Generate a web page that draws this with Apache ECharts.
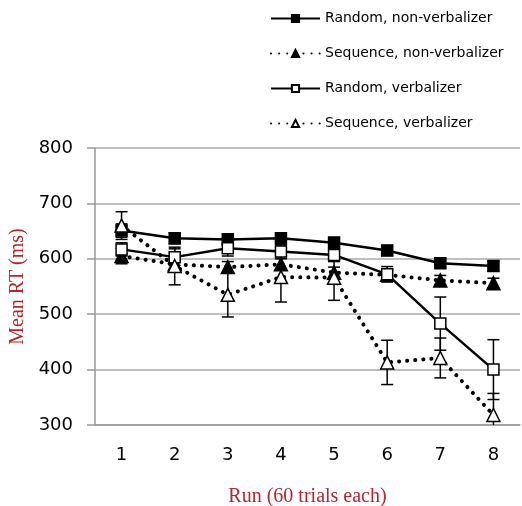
<!DOCTYPE html>
<html>
<head>
<meta charset="utf-8">
<script src="https://cdn.jsdelivr.net/npm/echarts@6/dist/echarts.min.js"></script>
<style>
  html, body { margin: 0; padding: 0; background: #fff; }
  #main { width: 522px; height: 506px; }
</style>
</head>
<body>
<div id="main"></div>
<script>
var runs = ['1', '2', '3', '4', '5', '6', '7', '8'];

var randNonVerb = [651, 637, 635, 637, 629, 615, 592, 587];
var randNonVerbErr = [12, 10, 10, 10, 10, 9, 8, 9];

var seqNonVerb = [605, 590, 585, 590, 575, 571, 561, 556];
var seqNonVerbErr = [14, 10, 10, 10, 10, 9, 9, 9];

var randVerb = [617, 603, 619, 613, 607, 572, 483, 400];
var randVerbErr = [12, 15, 14, 12, 12, 14, 48, 54];

var seqVerb = [660, 587, 535, 567, 566, 413, 421, 318];
var seqVerbErr = [25, 34, 40, 45, 41, 40, 36, 39];

var myChart = echarts.init(document.getElementById('main'));

// error bars drawn through the axis scale
function errSeries(vals, errs) {
  var data = vals.map(function (v, i) { return [i, v - errs[i], v + errs[i]]; });
  return {
    type: 'custom',
    silent: true,
    clip: true,
    z: 1,
    renderItem: function (params, api) {
      var x = api.value(0);
      var lo = api.coord([x, api.value(1)]);
      var hi = api.coord([x, api.value(2)]);
      var w = 6;
      var st = { stroke: '#000', lineWidth: 1.5 };
      return {
        type: 'group',
        children: [
          { type: 'line', shape: { x1: hi[0], y1: hi[1], x2: lo[0], y2: lo[1] }, style: st },
          { type: 'line', shape: { x1: hi[0] - w, y1: hi[1], x2: hi[0] + w, y2: hi[1] }, style: st },
          { type: 'line', shape: { x1: lo[0] - w, y1: lo[1], x2: lo[0] + w, y2: lo[1] }, style: st }
        ]
      };
    },
    data: data
  };
}

var solid = { color: '#000', width: 2.5 };
var dotted = { color: '#000', width: 4, type: [0.1, 8], cap: 'round' };

function lineSeries(name, vals, symbol, filled, ls) {
  return {
    name: name,
    type: 'line',
    data: vals,
    z: 3,
    symbol: symbol,
    symbolSize: symbol === 'triangle' ? 13 : 11,
    showAllSymbol: true,
    lineStyle: ls,
    itemStyle: { color: filled ? '#000' : '#fff', borderColor: '#000', borderWidth: 1.5 }
  };
}

var option = {
  animation: false,
  backgroundColor: '#fff',
  textStyle: { fontFamily: 'DejaVu Sans' },
  legend: {
    orient: 'vertical',
    left: 270,
    top: 10,
    padding: 0,
    itemGap: 18,
    itemWidth: 49,
    itemHeight: 9,
    textStyle: { fontSize: 14, color: '#000', fontFamily: 'DejaVu Sans', lineHeight: 17 },
    data: ['Random, non-verbalizer', 'Sequence, non-verbalizer', 'Random, verbalizer', 'Sequence, verbalizer']
  },
  grid: { left: 95, right: 2, top: 148, bottom: 81, outerBoundsMode: 'none' },
  xAxis: {
    type: 'category',
    data: runs,
    name: 'Run (60 trials each)',
    nameLocation: 'middle',
    nameGap: 62,
    nameTextStyle: { fontFamily: 'Liberation Serif', fontSize: 20, color: '#b0282d' },
    axisLine: { lineStyle: { color: '#999', width: 1.5 } },
    axisTick: { show: false },
    axisLabel: { fontSize: 18, color: '#000', margin: 21 }
  },
  yAxis: {
    type: 'value',
    min: 300,
    max: 800,
    interval: 100,
    name: 'Mean RT (ms)',
    nameLocation: 'middle',
    nameGap: 66,
    nameTextStyle: { fontFamily: 'Liberation Serif', fontSize: 20, color: '#b0282d' },
    axisLine: { show: true, lineStyle: { color: '#999', width: 1.5 } },
    axisTick: { show: true, inside: false, length: 8, lineStyle: { color: '#999', width: 1.5 } },
    axisLabel: { fontSize: 18, color: '#000', margin: 22 },
    splitLine: { lineStyle: { color: '#aaa', width: 1.5 } }
  },
  series: [
    errSeries(randNonVerb, randNonVerbErr),
    errSeries(seqNonVerb, seqNonVerbErr),
    errSeries(randVerb, randVerbErr),
    errSeries(seqVerb, seqVerbErr),
    lineSeries('Random, non-verbalizer', randNonVerb, 'rect', true, solid),
    lineSeries('Sequence, non-verbalizer', seqNonVerb, 'triangle', true, dotted),
    lineSeries('Random, verbalizer', randVerb, 'rect', false, solid),
    lineSeries('Sequence, verbalizer', seqVerb, 'triangle', false, dotted)
  ]
};

myChart.setOption(option);
</script>
</body>
</html>
